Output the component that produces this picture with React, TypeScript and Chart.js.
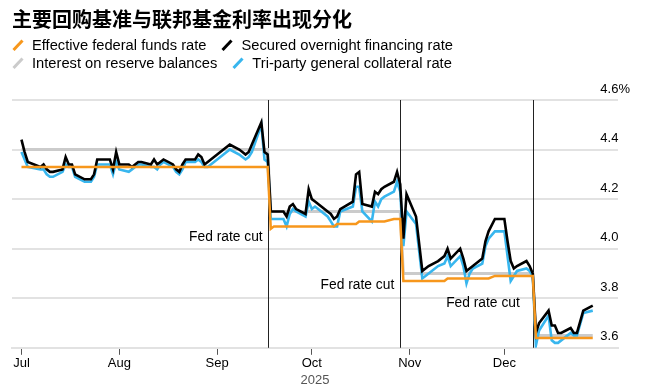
import { useEffect, useRef } from "react";
import { Chart, registerables } from "chart.js";

Chart.register(...registerables);

const titleText = "主要回购基准与联邦基金利率出现分化";
const seriesNames = [
  "Effective federal funds rate",
  "Secured overnight financing rate",
  "Interest on reserve balances",
  "Tri-party general collateral rate",
];

// Business days (2025, MM-DD)
const dates = [
  "07-01","07-02","07-03","07-07","07-08","07-09","07-10","07-11","07-14","07-15","07-16","07-17","07-18","07-21","07-22","07-23","07-24","07-25","07-28","07-29","07-30","07-31",
  "08-01","08-04","08-05","08-06","08-07","08-08","08-11","08-12","08-13","08-14","08-15","08-18","08-19","08-20","08-21","08-22","08-25","08-26","08-27","08-28","08-29",
  "09-02","09-03","09-04","09-05","09-08","09-09","09-10","09-11","09-12","09-15","09-16","09-17","09-18","09-19","09-22","09-23","09-24","09-25","09-26","09-29","09-30",
  "10-01","10-02","10-03","10-06","10-07","10-08","10-09","10-10","10-14","10-15","10-16","10-17","10-20","10-21","10-22","10-23","10-24","10-27","10-28","10-29","10-30","10-31",
  "11-03","11-04","11-05","11-06","11-07","11-10","11-12","11-13","11-14","11-17","11-18","11-19","11-20","11-21","11-24","11-25","11-26","11-28",
  "12-01","12-02","12-03","12-04","12-05","12-08","12-09","12-10","12-11","12-12","12-15","12-16","12-17","12-18","12-19","12-22","12-23","12-24","12-26","12-29",
];

const sofr = [
  4.44,4.39,4.35,4.33,4.34,4.32,4.31,4.31,4.32,4.37,4.34,4.34,4.30,4.28,4.28,4.28,4.30,4.36,4.36,4.36,4.32,4.39,
  4.34,4.34,4.33,4.34,4.35,4.35,4.34,4.36,4.34,4.35,4.36,4.34,4.32,4.31,4.34,4.36,4.36,4.38,4.37,4.34,4.35,
  4.39,4.40,4.41,4.42,4.40,4.39,4.38,4.39,4.42,4.51,4.39,4.38,4.15,4.15,4.15,4.13,4.17,4.18,4.16,4.14,4.24,
  4.20,4.19,4.18,4.15,4.14,4.12,4.13,4.16,4.19,4.30,4.31,4.18,4.17,4.23,4.22,4.24,4.25,4.27,4.31,4.26,4.04,4.22,
  4.13,4.02,3.91,3.92,3.93,3.95,3.97,4.00,3.96,4.00,3.96,3.91,3.92,3.93,3.96,4.03,4.07,4.12,
  4.12,4.03,3.95,3.92,3.93,3.95,3.93,3.90,3.66,3.70,3.75,3.69,3.69,3.66,3.66,3.68,3.66,3.66,3.75,3.77,
];

const tgcr = [
  4.39,4.36,4.33,4.32,4.32,4.30,4.29,4.29,4.31,4.34,4.33,4.33,4.29,4.27,4.27,4.27,4.29,4.34,4.34,4.34,4.30,4.35,
  4.32,4.31,4.32,4.33,4.34,4.34,4.33,4.33,4.32,4.34,4.35,4.33,4.31,4.30,4.32,4.35,4.35,4.36,4.35,4.33,4.33,
  4.37,4.38,4.39,4.40,4.38,4.37,4.36,4.37,4.39,4.50,4.36,4.35,4.12,4.12,4.12,4.09,4.14,4.16,4.15,4.13,4.19,
  4.16,4.17,4.16,4.13,4.11,4.09,4.09,4.15,4.17,4.25,4.25,4.15,4.11,4.19,4.17,4.20,4.21,4.23,4.27,4.23,4.01,4.15,
  4.10,3.99,3.88,3.89,3.90,3.93,3.94,3.97,3.93,3.97,3.93,3.86,3.90,3.92,3.94,4.01,4.04,4.07,
  4.07,3.97,3.87,3.89,3.91,3.92,3.91,3.89,3.61,3.67,3.73,3.63,3.62,3.62,3.63,3.66,3.65,3.65,3.74,3.75,
];

// Step series: value held between listed dates
const effrDates = ["07-01","09-17","09-18","09-19","10-08","10-09","10-15","10-16","10-24","10-27","10-29","10-30","11-12","11-13","11-26","11-28","12-10","12-11","12-29"];
const effr = [4.33,4.33,4.08,4.09,4.09,4.10,4.10,4.11,4.11,4.12,4.12,3.87,3.87,3.88,3.88,3.89,3.89,3.64,3.64];

const iorbDates = ["07-01","09-17","09-18","10-29","10-30","12-10","12-11","12-29"];
const iorb = [4.40,4.40,4.15,4.15,3.90,3.90,3.65,3.65];

const axisRange = ["2025-06-28", "2026-01-06"];
const monthTicks = ["07-01","08-01","09-01","10-01","11-01","12-01"];
const monthLabels = ["Jul","Aug","Sep","Oct","Nov","Dec"];
const yearLabel = "2025";
const yTicks = [3.6, 3.8, 4.0, 4.2, 4.4, 4.6];

const rateCutDates = ["09-17","10-29","12-10"];
const rateCutText = "Fed rate cut";
const rateCutLabelY = [4.045, 3.851, 3.782];
const rateCutLabelGap = [5, 6, 13];

const ORANGE = "#F7971C";
const BLUE = "#38B6EE";
const GRAY = "#CBCBCB";
const BLACK = "#000000";
const FONT = "'Liberation Sans', Arial, Helvetica, sans-serif";

const dayOf = (s: string) => {
  const p = s.split("-").map(Number);
  const [y, m, d] = p.length === 3 ? p : [2025, p[0], p[1]];
  return (Date.UTC(y, m - 1, d) - Date.UTC(2025, 6, 1)) / 86400000;
};
const toPts = (ds: string[], vs: number[]) => ds.map((s, i) => ({ x: dayOf(s), y: vs[i] }));

const rateCutPlugin = {
  id: "rateCuts",
  beforeDatasetsDraw(chart: any) {
    const { ctx, chartArea, scales } = chart;
    ctx.save();
    ctx.strokeStyle = "#222";
    ctx.lineWidth = 1;
    rateCutDates.forEach((dt) => {
      const px = Math.round(scales.x.getPixelForValue(dayOf(dt))) + 0.5;
      ctx.beginPath();
      ctx.moveTo(px, chartArea.top);
      ctx.lineTo(px, chartArea.bottom);
      ctx.stroke();
    });
    ctx.restore();
  },
  afterDatasetsDraw(chart: any) {
    const { ctx, scales } = chart;
    ctx.save();
    ctx.fillStyle = "#000";
    ctx.font = `13.8px ${FONT}`;
    ctx.textAlign = "right";
    ctx.textBaseline = "middle";
    rateCutDates.forEach((dt, i) => {
      const px = scales.x.getPixelForValue(dayOf(dt)) - rateCutLabelGap[i];
      const py = scales.y.getPixelForValue(rateCutLabelY[i]);
      ctx.fillText(rateCutText, px, py);
    });
    ctx.restore();
  },
};

const legendItems = [
  [{ name: seriesNames[0], color: ORANGE }, { name: seriesNames[1], color: BLACK }],
  [{ name: seriesNames[2], color: GRAY }, { name: seriesNames[3], color: BLUE }],
];

function Marker({ color }: { color: string }) {
  return (
    <svg width="12" height="12" style={{ marginRight: 8, flex: "none" }}>
      <line x1="1.5" y1="11" x2="10.5" y2="1.5" stroke={color} strokeWidth="3" />
    </svg>
  );
}

export default function App() {
  const canvasRef = useRef<HTMLCanvasElement | null>(null);

  useEffect(() => {
    if (!canvasRef.current) return;
    const chart = new Chart(canvasRef.current, {
      type: "line",
      data: {
        datasets: [
          { label: seriesNames[0], data: toPts(effrDates, effr), borderColor: ORANGE, borderWidth: 2.5 },
          { label: seriesNames[1], data: toPts(dates, sofr), borderColor: BLACK, borderWidth: 2.6 },
          { label: seriesNames[3], data: toPts(dates, tgcr), borderColor: BLUE, borderWidth: 2.6 },
          { label: seriesNames[2], data: toPts(iorbDates, iorb), borderColor: GRAY, borderWidth: 3 },
        ],
      },
      options: {
        responsive: false,
        animation: false,
        events: [],
        layout: { padding: { top: 100, left: 12, right: 4, bottom: 3 } },
        elements: { point: { radius: 0 }, line: { tension: 0 } },
        plugins: { legend: { display: false }, tooltip: { enabled: false } },
        scales: {
          x: {
            type: "linear",
            min: dayOf(axisRange[0]),
            max: dayOf(axisRange[1]),
            afterBuildTicks: (scale: any) => {
              scale.ticks = monthTicks.map((m) => ({ value: dayOf(m) }));
            },
            ticks: {
              autoSkip: false,
              maxRotation: 0,
              padding: 1,
              color: "#000",
              font: { family: FONT, size: 13 },
              callback: (v: any) => monthLabels[monthTicks.findIndex((m) => dayOf(m) === v)] ?? "",
            },
            grid: { drawOnChartArea: false, drawTicks: true, tickLength: 7, color: "#555", lineWidth: 1 },
            border: { display: true, color: "#E2E2E2", width: 2 },
            title: {
              display: true,
              text: yearLabel,
              color: "#555",
              font: { family: FONT, size: 13 },
              padding: { top: 0, bottom: 0 },
            },
          },
          y: {
            type: "linear",
            position: "right",
            min: yTicks[0],
            max: yTicks[yTicks.length - 1],
            afterBuildTicks: (scale: any) => {
              scale.ticks = yTicks.map((v) => ({ value: v }));
            },
            ticks: {
              mirror: true,
              crossAlign: "far",
              padding: 12,
              labelOffset: -11,
              color: "#000",
              font: { family: FONT, size: 13 },
              callback: (v: any, i: number, arr: any[]) =>
                Number(v).toFixed(1) + (i === arr.length - 1 ? "%" : ""),
            },
            grid: { color: "#E2E2E2", lineWidth: 2, drawTicks: false },
            border: { display: false },
          },
        },
      },
      plugins: [rateCutPlugin],
    } as any);
    return () => chart.destroy();
  }, []);

  return (
    <div style={{ position: "absolute", left: 0, top: 0, width: 646, height: 391, background: "#fff", overflow: "hidden" }}>
      <canvas ref={canvasRef} width={646} height={391} style={{ position: "absolute", left: 0, top: 0 }} />
      <div
        style={{
          position: "absolute",
          left: 12,
          top: 7,
          fontFamily: "'Noto Sans CJK SC', sans-serif",
          fontWeight: 700,
          fontSize: 20,
          lineHeight: "24px",
          color: "#000",
          whiteSpace: "nowrap",
        }}
      >
        {titleText}
      </div>
      {legendItems.map((row, r) => (
        <div
          key={r}
          style={{
            position: "absolute",
            left: 12,
            top: 36 + r * 18,
            display: "flex",
            alignItems: "center",
            fontFamily: FONT,
            fontSize: 14.7,
            lineHeight: "18px",
            color: "#000",
            whiteSpace: "nowrap",
          }}
        >
          {row.map((it) => (
            <div key={it.name} style={{ display: "flex", alignItems: "center", marginRight: 15 }}>
              <Marker color={it.color} />
              <span>{it.name}</span>
            </div>
          ))}
        </div>
      ))}
    </div>
  );
}
